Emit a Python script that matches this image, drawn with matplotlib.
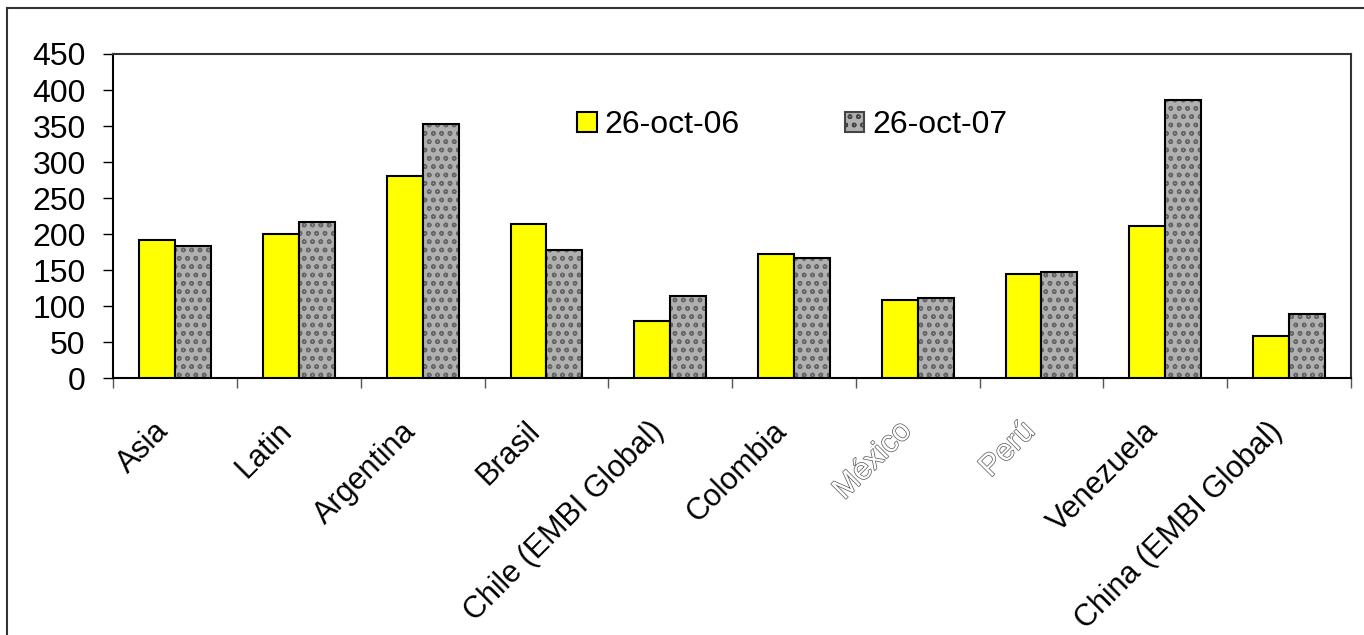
import matplotlib.pyplot as plt
import matplotlib.patheffects as pe
from matplotlib.patches import Patch
from matplotlib.lines import Line2D
from matplotlib.transforms import ScaledTranslation
import numpy as np

plt.rcParams['font.family'] = ['Liberation Sans', 'DejaVu Sans']
plt.rcParams['hatch.linewidth'] = 1.0

paises = ["Asia", "Latin", "Argentina", "Brasil", "Chile (EMBI Global)",
          "Colombia", "México", "Perú", "Venezuela", "China (EMBI Global)"]
oct06 = [192, 200, 281, 214, 80, 172, 108, 144, 211, 59]
oct07 = [184, 217, 353, 178, 114, 167, 112, 147, 386, 89]
leyenda = ["26-oct-06", "26-oct-07"]

amarillo = "#ffff00"
gris = "#b0b0b0"

fig = plt.figure(figsize=(13.64, 6.35), dpi=100)
ax = fig.add_axes([0.0831, 0.4043, 0.9072, 0.5107])

x = np.arange(len(paises))
w = 0.29

ax.bar(x - w / 2, oct06, w, color=amarillo, edgecolor="black", linewidth=1.5, zorder=3)
ax.bar(x + w / 2, oct07, w, color=gris, edgecolor="#666666", linewidth=0,
       hatch="oo", zorder=3)
ax.bar(x + w / 2, oct07, w, fill=False, edgecolor="black", linewidth=1.5, zorder=4)

ax.set_xlim(-0.5, len(paises) - 0.5)
ax.set_ylim(0, 450)
ax.set_yticks(range(0, 451, 50))
ax.tick_params(axis="y", direction="out", length=7, width=1, labelsize=23, pad=13)

ax.set_xticks(np.arange(-0.5, len(paises), 1.0))
ax.set_xticklabels([])
ax.tick_params(axis="x", which="major", direction="out", length=7, width=1, color="#555555")
ax.set_xticks(x, minor=True)
ax.set_xticklabels(paises, minor=True, rotation=45, ha="right", va="center",
                   rotation_mode="anchor", fontsize=22)
ax.tick_params(axis="x", which="minor", length=0, pad=35)

# desplazar las etiquetas un poco a la izquierda
offset = ScaledTranslation(-0.11, 0, fig.dpi_scale_trans)
for lbl in ax.get_xticklabels(minor=True):
    lbl.set_transform(lbl.get_transform() + offset)
    if lbl.get_text() in ("México", "Perú"):
        lbl.set_color("white")
        lbl.set_path_effects([pe.Stroke(linewidth=1.0, foreground="#555555"), pe.Normal()])

for s in ["left", "bottom"]:
    ax.spines[s].set_linewidth(1.5)
    ax.spines[s].set_color("black")
for s in ["top", "right"]:
    ax.spines[s].set_linewidth(1.5)
    ax.spines[s].set_color("#333333")

handles = [Patch(facecolor=amarillo, edgecolor="black", linewidth=1.5),
           Patch(facecolor=gris, edgecolor="#444444", linewidth=1.5, hatch="oo")]
fig.legend(handles, leyenda, loc="center", bbox_to_anchor=(0.581, 0.803), ncol=2,
           frameon=False, fontsize=23, handlelength=0.6, handleheight=0.6,
           handletextpad=0.25, columnspacing=3.3)

# marco exterior
fig.add_artist(Line2D([0.0051, 0.0051], [0.0, 0.9874], color="#333333", linewidth=1.5))
fig.add_artist(Line2D([0.0051, 1.0], [0.9874, 0.9874], color="#333333", linewidth=1.5))

fig.savefig("out.png", dpi=100)
